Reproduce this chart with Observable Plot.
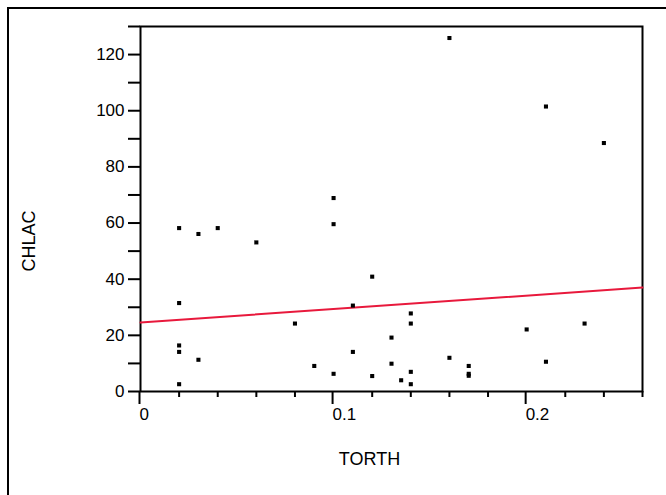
<!DOCTYPE html>
<html>
<head>
<meta charset="utf-8">
<script src="https://cdn.jsdelivr.net/npm/d3@7"></script>
<script src="https://cdn.jsdelivr.net/npm/@observablehq/plot@0.6"></script>
<style>
  html, body { margin: 0; padding: 0; background: #fff; overflow: hidden; }
  #wrap { position: relative; width: 666px; height: 495px; overflow: hidden; }
  #border { position: absolute; left: 7px; top: 7px; width: 1000px; height: 1000px;
            border: 2px solid #000; pointer-events: none; }
</style>
</head>
<body>
<div id="wrap"><div id="border"></div></div>
<script>
// ---- data ----
const torth = [0.02,0.02,0.02,0.02,0.02, 0.03,0.03, 0.04, 0.06, 0.08, 0.09,
               0.10,0.10,0.10, 0.11,0.11, 0.12,0.12, 0.13,0.13, 0.135,
               0.14,0.14,0.14,0.14, 0.16,0.16, 0.17,0.17,0.17, 0.20,
               0.21,0.21, 0.23, 0.24];
const chlac = [58.2,31.5,16.4,14.1,2.6, 56.1,11.3, 58.2, 53.1, 24.2, 9.1,
               68.9,59.6,6.3, 30.6,14.1, 40.9,5.5, 19.2,9.9, 4.0,
               27.8,24.2,7.0,2.6, 125.9,12.0, 9.1,6.3,5.6, 22.1,
               101.5,10.6, 24.2, 88.5];
// fitted line end points (as drawn)
const fitX = [0, 0.26];
const fitY = [24.6, 37.0];
// ticks
const xTicks = [0, 0.1, 0.2];
const xMinorTicks = [0.02,0.04,0.06,0.08,0.12,0.14,0.16,0.18,0.22,0.24,0.26];
const yTicks = [0,20,40,60,80,100,120];
const yMinorTicks = [10,30,50,70,90,110,130];
const xTitle = "TORTH";
const yTitle = "CHLAC";

const points = torth.map((t, i) => ({torth: t, chlac: chlac[i]}));
const fit = fitX.map((x, i) => ({x, y: fitY[i]}));

const chart = Plot.plot({
  width: 666,
  height: 495,
  marginLeft: 140,
  marginRight: 24,
  marginTop: 26,
  marginBottom: 104,
  style: {fontFamily: "'Liberation Sans', Arial, sans-serif", fontSize: "17px", background: "transparent", color: "#000"},
  x: {domain: [0, 0.26], label: null},
  y: {domain: [0, 130], label: null},
  marks: [
    Plot.axisX({ticks: xMinorTicks, tickSize: 6, strokeWidth: 2, tickFormat: () => "", label: null}),
    Plot.axisX({ticks: xTicks, tickSize: 13, strokeWidth: 2, tickPadding: 3, textAnchor: "start", dx: -1,
                tickFormat: d => d === 0 ? "0" : String(d), fontSize: 17, label: null}),
    Plot.axisY({ticks: yMinorTicks, tickSize: 12, strokeWidth: 2, tickFormat: () => "", label: null}),
    Plot.axisY({ticks: yTicks, tickSize: 12, strokeWidth: 2, tickPadding: 4, fontSize: 17, label: null}),
    Plot.frame({stroke: "#000", strokeWidth: 2}),
    Plot.line(fit, {x: "x", y: "y", stroke: "#e8193c", strokeWidth: 2}),
    Plot.dot(points, {x: "torth", y: "chlac", symbol: "square", r: 2.3, fill: "#000", stroke: "none"}),
    Plot.text([xTitle], {frameAnchor: "bottom", textAnchor: "middle", lineAnchor: "bottom", dx: -22, dy: 73, fontSize: 18, fill: "#000"}),
    Plot.text([yTitle], {frameAnchor: "left", textAnchor: "middle", rotate: -90, dx: -111, dy: 32, fontSize: 18, fill: "#000"})
  ]
});
chart.style.position = "absolute";
chart.style.left = "0px";
chart.style.top = "0px";
document.getElementById("wrap").appendChild(chart);
</script>
</body>
</html>
